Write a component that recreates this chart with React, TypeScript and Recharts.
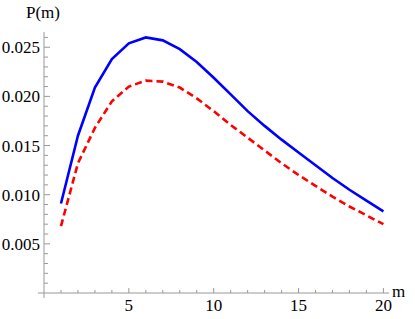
import React from "react";
import { LineChart, Line, XAxis, YAxis, ReferenceLine } from "recharts";

const mValues = [1, 2, 3, 4, 5, 6, 7, 8, 9, 10, 11, 12, 13, 14, 15, 16, 17, 18, 19, 20];
const blueSeries = [0.0091, 0.0160, 0.0209, 0.0238, 0.0254, 0.0260, 0.0257, 0.0248, 0.0235, 0.0219, 0.0202, 0.0185, 0.0170, 0.0156, 0.0143, 0.0130, 0.0117, 0.0105, 0.0094, 0.0083];
const redSeries = [0.0068, 0.0132, 0.0168, 0.0195, 0.0210, 0.0216, 0.0215, 0.0209, 0.0198, 0.0185, 0.0171, 0.0158, 0.0145, 0.0132, 0.0120, 0.0109, 0.0098, 0.0088, 0.0079, 0.0070];
const xTicks = [1, 2, 3, 4, 5, 6, 7, 8, 9, 10, 11, 12, 13, 14, 15, 16, 17, 18, 19, 20];
const xMajor = [5, 10, 15, 20];
const yTicks = [0.001, 0.002, 0.003, 0.004, 0.005, 0.006, 0.007, 0.008, 0.009, 0.010, 0.011, 0.012, 0.013, 0.014, 0.015, 0.016, 0.017, 0.018, 0.019, 0.020, 0.021, 0.022, 0.023, 0.024, 0.025, 0.026];
const yMajor = [0.005, 0.010, 0.015, 0.020, 0.025];

const data = mValues.map((m, i) => ({ m, blue: blueSeries[i], red: redSeries[i] }));

const FONT = "'Liberation Serif', serif";
const AXIS = "#999999";

const Label = (p: { x: number; y: number; anchor?: string; children: React.ReactNode }) => (
  <text
    x={p.x}
    y={p.y}
    textAnchor={p.anchor || "start"}
    fontFamily="Liberation Serif"
    fontSize={17}
    fill="#000"
    style={{ fontFamily: FONT, fontSize: 17 }}
  >
    {p.children}
  </text>
);

const isMajorY = (v: number) => yMajor.some((t) => Math.abs(t - v) < 1e-7);

const XTick = (props: any) => {
  const { x, y, payload } = props;
  const major = xMajor.includes(payload.value);
  return (
    <g>
      <line x1={x} y1={y} x2={x} y2={y - (major ? 5 : 3)} stroke={AXIS} strokeWidth={1} />
      {major && (
        <Label x={x} y={y + 18} anchor="middle">
          {String(payload.value)}
        </Label>
      )}
    </g>
  );
};

const YTick = (props: any) => {
  const { x, y, payload } = props;
  const major = isMajorY(payload.value);
  return (
    <g>
      <line x1={x} y1={y} x2={x + (major ? 6 : 4)} y2={y} stroke={AXIS} strokeWidth={1} />
      {major && (
        <Label x={x - 4} y={y + 6} anchor="end">
          {payload.value.toFixed(3)}
        </Label>
      )}
    </g>
  );
};

export default function App() {
  return (
    <div style={{ position: "absolute", left: 0, top: 0, width: 415, height: 319, background: "#fff" }}>
      <LineChart width={415} height={319} data={data} margin={{ top: 32, right: 26, bottom: 0, left: 0 }}>
        <XAxis
          dataKey="m"
          type="number"
          domain={[0, 20.33]}
          ticks={xTicks}
          tick={<XTick />}
          tickSize={0}
          tickMargin={0}
          axisLine={false}
          tickLine={false}
          height={26}
          interval={0}
          allowDataOverflow
        />
        <YAxis
          type="number"
          domain={[0, 0.02655]}
          ticks={yTicks}
          tick={<YTick />}
          tickSize={0}
          tickMargin={0}
          axisLine={false}
          tickLine={false}
          width={44}
          interval={0}
          allowDataOverflow
        />
        <ReferenceLine
          segment={[{ x: 0, y: -0.0005 }, { x: 0, y: 0.02655 }]}
          stroke={AXIS}
          strokeWidth={1}
          ifOverflow="visible"
        />
        <ReferenceLine
          segment={[{ x: -0.35, y: 0 }, { x: 20.33, y: 0 }]}
          stroke={AXIS}
          strokeWidth={1}
          ifOverflow="visible"
        />
        <Line type="linear" dataKey="blue" stroke="#0000ff" strokeWidth={2.6} dot={false} isAnimationActive={false} />
        <Line type="linear" dataKey="red" stroke="#ff0000" strokeWidth={2.6} strokeDasharray="7 4" dot={false} isAnimationActive={false} />
        <Label x={26} y={18}>P(m)</Label>
        <Label x={392} y={297}>m</Label>
      </LineChart>
    </div>
  );
}
